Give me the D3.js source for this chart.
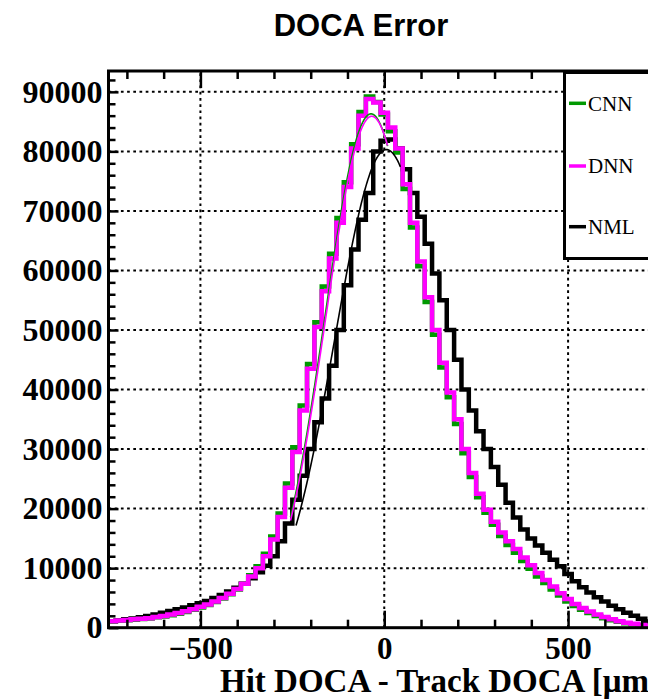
<!DOCTYPE html>
<html>
<head>
<meta charset="utf-8">
<script src="https://cdn.jsdelivr.net/npm/d3@7"></script>
<style>
  body { margin: 0; background: #fff; }
  svg { display: block; }
</style>
</head>
<body>
<script>
// Histogram binning: 75 bins of 20 µm from -750 to 750
const binLow = -750;
const binWidth = 20;

// Bin contents, bin centres -740 ... 740
const nmlCounts = [
  1100, 1250, 1400, 1550, 1750, 1950, 2200, 2500, 2800, 3100,
  3400, 3750, 4100, 4500, 5000, 5500, 6100, 6700, 7400, 8300,
  9300, 10400, 12000, 14500, 17500, 21500, 25500, 30000, 34500, 38500,
  44000, 50000, 57500, 63500, 68500, 73000, 80000, 81800, 82000, 80500,
  77000, 73000, 69000, 64500, 59500, 55000, 50000, 45000, 40000, 36500,
  33000, 30000, 27000, 24000, 21000, 18500, 16500, 15000, 13800, 12600,
  11400, 10300, 9000, 7800, 6800, 5900, 5100, 4400, 3700, 3100,
  2500, 2000, 1500, 1050, 700
];
const cnnCounts = [
  1050, 1150, 1250, 1350, 1450, 1550, 1750, 1900, 2100, 2350,
  2650, 3000, 3400, 3800, 4300, 4900, 5600, 6400, 7400, 8800,
  10300, 12400, 15300, 19200, 24200, 30300, 37300, 44300, 51300, 57300,
  62800, 68800, 74800, 81200, 86600, 89200, 88300, 86200, 83400, 79800,
  73700, 67200, 60700, 54700, 49200, 43700, 38700, 34200, 29300, 25300,
  21900, 19300, 17300, 15400, 13900, 12600, 11200, 9900, 8600, 7500,
  6400, 5400, 4400, 3650, 3000, 2450, 1950, 1600, 1250, 980,
  760, 570, 390, 260, 170
];
const dnnCounts = [
  1100, 1200, 1300, 1400, 1500, 1600, 1800, 1950, 2200, 2450,
  2750, 3100, 3500, 3900, 4400, 5000, 5700, 6500, 7400, 8600,
  10000, 12000, 14800, 18600, 23500, 29500, 36500, 43500, 50500, 56500,
  62000, 68000, 74000, 80500, 86000, 88800, 88200, 86500, 84000, 80500,
  74500, 68000, 61500, 55500, 50000, 44500, 39500, 35000, 30000, 26000,
  22500, 19800, 17800, 16000, 14500, 13200, 11800, 10500, 9200, 8000,
  6900, 5800, 4800, 4000, 3300, 2700, 2200, 1800, 1400, 1100,
  850, 650, 450, 300, 200
];

// Gaussian fits to the core: [amplitude, mean, sigma, range low, range high]
const nmlFit = [80300, 6, 140, -240, 45];
const cnnFit = [86300, -36, 125, -255, 10];
const dnnFit = [85900, -34, 125, -255, 10];

const seriesNames = ["CNN", "DNN", "NML"];
const seriesColors = { CNN: "#009900", DNN: "#ff00ff", NML: "#000000" };

const yMajorTicks = [0, 10000, 20000, 30000, 40000, 50000, 60000, 70000, 80000, 90000];
const xMajorTicks = [-500, 0, 500];
const xTickLabels = ["\u2212500", "0", "500"];

const W = 648, H = 699;
const serif = "'Liberation Serif', 'Times New Roman', serif";

const svg = d3.select("body").append("svg")
  .attr("width", W).attr("height", H);

const x = d3.scaleLinear().domain([-750, 750]).range([108.5, 660]);
const y = d3.scaleLinear().domain([0, 93500]).range([627.7, 71]);

const [x0, x1] = x.range();
const [yb, yt] = y.range();

svg.append("defs").append("clipPath").attr("id", "plotclip")
  .append("rect").attr("x", x0).attr("y", yt).attr("width", x1 - x0).attr("height", yb - yt);

// Title
svg.append("text")
  .attr("x", 361).attr("y", 36)
  .attr("text-anchor", "middle")
  .style("font-family", "'Liberation Sans', Arial, sans-serif")
  .style("font-weight", "bold").style("font-size", "31px")
  .text("DOCA Error");

// Dotted grid
const grid = svg.append("g").attr("stroke", "#000").attr("stroke-width", 2)
  .attr("stroke-dasharray", "2.7,3.5");
grid.selectAll("line.h").data(yMajorTicks.filter(d => d > 0)).join("line")
  .attr("x1", x0).attr("x2", x1).attr("y1", d => y(d)).attr("y2", d => y(d));
grid.selectAll("line.v").data(xMajorTicks).join("line")
  .attr("y1", yb).attr("y2", yt).attr("x1", d => x(d)).attr("x2", d => x(d));

// Histograms as step outlines
function stepPoints(counts) {
  const pts = counts.map((v, i) => [binLow + i * binWidth, v]);
  pts.push([binLow + counts.length * binWidth, counts[counts.length - 1]]);
  return pts;
}
const stepLine = d3.line().x(d => x(d[0])).y(d => y(d[1])).curve(d3.curveStepAfter);

const plot = svg.append("g").attr("clip-path", "url(#plotclip)");
const hists = [["NML", nmlCounts], ["CNN", cnnCounts], ["DNN", dnnCounts]];
hists.forEach(([name, counts]) => {
  plot.append("path")
    .attr("d", stepLine(stepPoints(counts)))
    .attr("fill", "none")
    .attr("stroke", seriesColors[name])
    .attr("stroke-width", 4.5)
    .attr("stroke-linejoin", "miter");
});

// Fit curves
const fitLine = d3.line().x(d => x(d[0])).y(d => y(d[1]));
function fitPoints(p) {
  const [a, m, s, lo, hi] = p;
  return d3.range(lo, hi + 0.001, 2).map(v => [v, a * Math.exp(-0.5 * ((v - m) / s) ** 2)]);
}
[["NML", nmlFit], ["CNN", cnnFit], ["DNN", dnnFit]].forEach(([name, p]) => {
  plot.append("path")
    .attr("d", fitLine(fitPoints(p)))
    .attr("fill", "none")
    .attr("stroke", seriesColors[name])
    .attr("stroke-width", 1.6);
});

// Axes (ROOT style: inward ticks)
const yMinor = d3.range(0, 93500, 2000).filter(d => d % 10000 !== 0);
const xMinor = d3.range(-700, 701, 100).filter(d => d % 500 !== 0);

function styleAxis(g) {
  g.select(".domain").remove();
  g.selectAll(".tick line").attr("stroke", "#000").attr("stroke-width", 2.5);
}

svg.append("g").attr("transform", `translate(${x0},0)`)
  .call(d3.axisLeft(y).tickValues(yMinor).tickSize(-7).tickFormat(""))
  .call(styleAxis);
const yAxis = svg.append("g").attr("transform", `translate(${x0},0)`)
  .call(d3.axisLeft(y).tickValues(yMajorTicks).tickSize(-10).tickPadding(6).tickFormat(d3.format("d")))
  .call(styleAxis);
yAxis.selectAll("text")
  .style("font-family", serif).style("font-weight", "bold").style("font-size", "32px")
  .attr("fill", "#000");

svg.append("g").attr("transform", `translate(0,${yb})`)
  .call(d3.axisBottom(x).tickValues(xMinor).tickSize(-8).tickFormat(""))
  .call(styleAxis);
const xAxis = svg.append("g").attr("transform", `translate(0,${yb})`)
  .call(d3.axisBottom(x).tickValues(xMajorTicks).tickSize(-17).tickPadding(9)
    .tickFormat((d, i) => xTickLabels[i]))
  .call(styleAxis);
xAxis.selectAll("text")
  .style("font-family", serif).style("font-weight", "bold").style("font-size", "31px")
  .attr("fill", "#000");

svg.append("g").attr("transform", `translate(0,${yt})`)
  .call(d3.axisTop(x).tickValues(xMinor).tickSize(-8).tickFormat(""))
  .call(styleAxis);
svg.append("g").attr("transform", `translate(0,${yt})`)
  .call(d3.axisTop(x).tickValues(xMajorTicks).tickSize(-17).tickFormat(""))
  .call(styleAxis);

// Frame
svg.append("rect")
  .attr("x", x0).attr("y", yt).attr("width", x1 - x0).attr("height", yb - yt)
  .attr("fill", "none").attr("stroke", "#000").attr("stroke-width", 3);

// X axis title (runs past the right edge of the page, as in the layout)
svg.append("text")
  .attr("x", 220).attr("y", 692)
  .style("font-family", serif).style("font-weight", "bold").style("font-size", "33px")
  .text("Hit DOCA - Track DOCA [\u03bcm]");

// Legend
const legend = svg.append("g");
legend.append("rect")
  .attr("x", 564.5).attr("y", 72.5).attr("width", 200).attr("height", 186)
  .attr("fill", "#fff").attr("stroke", "#000").attr("stroke-width", 3);
const legendY = { CNN: 103.3, DNN: 166, NML: 226.7 };
seriesNames.forEach(name => {
  const ly = legendY[name];
  legend.append("line")
    .attr("x1", 569).attr("x2", 586).attr("y1", ly).attr("y2", ly)
    .attr("stroke", seriesColors[name]).attr("stroke-width", 3.5);
  legend.append("text")
    .attr("x", 588).attr("y", ly + 7.4)
    .style("font-family", serif).style("font-size", "21px")
    .text(name);
});
</script>
</body>
</html>
